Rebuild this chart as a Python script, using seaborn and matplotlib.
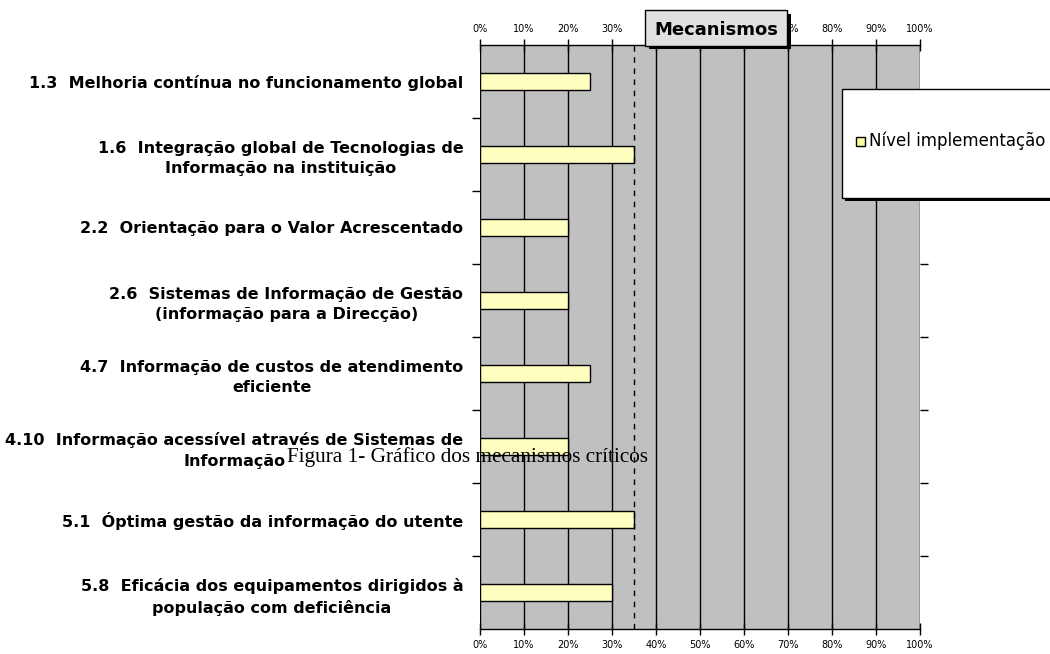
import matplotlib
matplotlib.use("Agg")
import matplotlib.pyplot as plt
import seaborn as sns
import pandas as pd
from matplotlib.patches import Rectangle

# Mechanisms and their implementation level (%)
mecanismos = [
    "1.3  Melhoria contínua no funcionamento global",
    "1.6  Integração global de Tecnologias de\nInformação na instituição",
    "2.2  Orientação para o Valor Acrescentado",
    "2.6  Sistemas de Informação de Gestão\n(informação para a Direcção)",
    "4.7  Informação de custos de atendimento\neficiente",
    "4.10  Informação acessível através de Sistemas de\nInformação",
    "5.1  Óptima gestão da informação do utente",
    "5.8  Eficácia dos equipamentos dirigidos à\npopulação com deficiência",
]
nivel = [25, 35, 20, 20, 25, 20, 35, 30]
referencia = 35
x_ticks = [0, 10, 20, 30, 40, 50, 60, 70, 80, 90, 100]

df = pd.DataFrame({"mecanismo": mecanismos, "nivel": nivel})

sns.set_style("white")
plt.rcParams["font.family"] = ["DejaVu Sans"]
plt.rcParams["text.color"] = "black"

W, H = 1050, 654


def fx(px):
    return px / W


def fy(px):
    return 1 - px / H


fig = plt.figure(figsize=(10.5, 6.54), dpi=100)
ax = fig.add_axes([fx(480), fy(629), 440 / W, 584 / H])
ax.set_facecolor("#C0C0C0")

sns.barplot(data=df, x="nivel", y="mecanismo", orient="h", color="#FFFFC0",
            edgecolor="black", linewidth=1, width=0.24, saturation=1, ax=ax)

ax.set_xlim(0, 100)
ax.set_ylim(len(mecanismos) - 0.5, -0.5)
ax.set_axisbelow(True)
ax.set_xticks(x_ticks)
ax.set_xticklabels([f"{v}%" for v in x_ticks], fontsize=7, color="black")
ax.xaxis.grid(True, color="black", linewidth=1)
ax.axvline(referencia, color="black", linestyle=(0, (4, 4)), linewidth=1, zorder=1)

ax.tick_params(axis="x", which="major", direction="inout", length=8, width=1,
               top=True, labeltop=True, bottom=True, labelbottom=True, pad=4,
               colors="black")
ax.set_yticks(range(len(mecanismos)))
ax.set_yticklabels(mecanismos, fontsize=11.5, fontweight="bold", color="black",
                   multialignment="center", linespacing=1.45)
ax.tick_params(axis="y", which="major", length=0, pad=12)
ax.set_yticks([i + 0.5 for i in range(len(mecanismos) - 1)], minor=True)
ax.tick_params(axis="y", which="minor", direction="out", length=6, width=1,
               left=True, right=True, colors="black")
ax.set_xlabel("")
ax.set_ylabel("")
for side in ["left", "right"]:
    ax.spines[side].set_visible(False)
for side in ["top", "bottom"]:
    ax.spines[side].set_linewidth(1)
    ax.spines[side].set_color("black")
    ax.spines[side].set_bounds(0, 100)

# Title in a shaded box with shadow
fig.patches.append(Rectangle((fx(649), fy(49)), 142 / W, 35 / H,
                             transform=fig.transFigure, facecolor="black",
                             edgecolor="none", zorder=2))
fig.patches.append(Rectangle((fx(645), fy(46)), 142 / W, 36 / H,
                             transform=fig.transFigure, facecolor="#E0E0E0",
                             edgecolor="black", linewidth=1, zorder=3))
fig.text(fx(716), fy(30), "Mecanismos", ha="center", va="center",
         fontsize=13, fontweight="bold", zorder=4)

# Legend box with shadow
fig.patches.append(Rectangle((fx(845), fy(201)), 0.2, 109 / H,
                             transform=fig.transFigure, facecolor="black",
                             edgecolor="none", zorder=2))
fig.patches.append(Rectangle((fx(842), fy(198)), 0.2, 109 / H,
                             transform=fig.transFigure, facecolor="white",
                             edgecolor="black", linewidth=1, zorder=3))
fig.patches.append(Rectangle((fx(856), fy(146)), 9 / W, 9 / H,
                             transform=fig.transFigure, facecolor="#FFFFA0",
                             edgecolor="black", linewidth=1, zorder=4))
fig.text(fx(869), fy(141), "Nível implementação", ha="left", va="center",
         fontsize=12, zorder=5)

# Figure caption overlapping the chart
fig.text(fx(287), fy(457), "Figura 1- Gráfico dos mecanismos críticos",
         ha="left", va="center", fontsize=15.3, family=["Liberation Serif"], zorder=6)

fig.savefig("out.png", dpi=100)
